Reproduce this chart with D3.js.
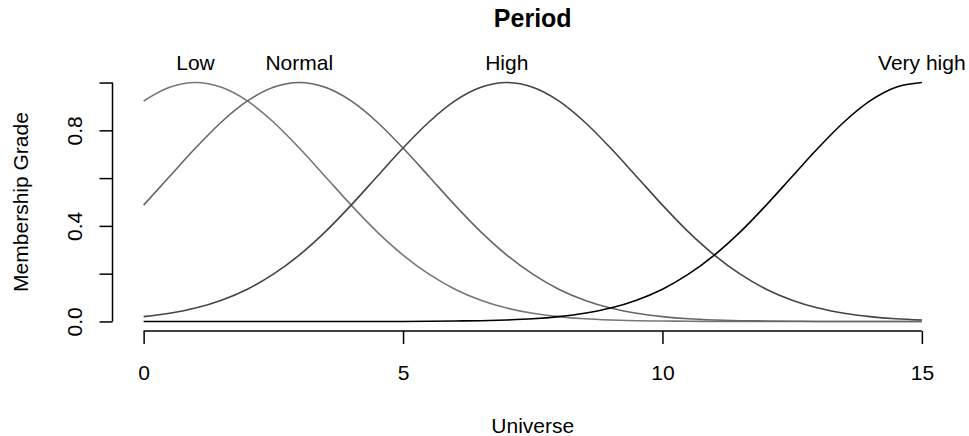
<!DOCTYPE html>
<html lang="en">
<head>
    <meta charset="UTF-8">
    <title>Period</title>
    <script src="https://cdnjs.cloudflare.com/ajax/libs/d3/7.8.5/d3.min.js"></script>
    <style>
        body { margin: 0; background: #fff; }
        svg { display: block; font-family: "Liberation Sans", Arial, Helvetica, sans-serif; }
    </style>
</head>
<body>
    <div id="chart"></div>
    <script>
        // universe sampled every 0.5
        const universe = [0, 0.5, 1, 1.5, 2, 2.5, 3, 3.5, 4, 4.5, 5, 5.5, 6, 6.5, 7, 7.5,
                          8, 8.5, 9, 9.5, 10, 10.5, 11, 11.5, 12, 12.5, 13, 13.5, 14, 14.5, 15];

        const low = [0.923, 0.980, 1, 0.980, 0.923, 0.835, 0.726, 0.607, 0.487, 0.375, 0.278,
                     0.198, 0.135, 0.089, 0.056, 0.034, 0.020, 0.011, 0.006, 0.003, 0.002,
                     0.001, 0, 0, 0, 0, 0, 0, 0, 0, 0];
        const normal = [0.487, 0.607, 0.726, 0.835, 0.923, 0.980, 1, 0.980, 0.923, 0.835, 0.726,
                        0.607, 0.487, 0.375, 0.278, 0.198, 0.135, 0.089, 0.056, 0.034, 0.020,
                        0.011, 0.006, 0.003, 0.002, 0.001, 0, 0, 0, 0, 0];
        const high = [0.020, 0.034, 0.056, 0.089, 0.135, 0.198, 0.278, 0.375, 0.487, 0.607, 0.726,
                      0.835, 0.923, 0.980, 1, 0.980, 0.923, 0.835, 0.726, 0.607, 0.487,
                      0.375, 0.278, 0.198, 0.135, 0.089, 0.056, 0.034, 0.020, 0.011, 0.006];
        const veryHigh = [0, 0, 0, 0, 0, 0, 0, 0, 0, 0, 0,
                          0.001, 0.002, 0.003, 0.006, 0.011, 0.020, 0.034, 0.056, 0.089, 0.135,
                          0.198, 0.278, 0.375, 0.487, 0.607, 0.726, 0.835, 0.923, 0.980, 1];

        const setNames = ["Low", "Normal", "High", "Very high"];
        const setPeaks = [1, 3, 7, 15];
        const setColors = ["#777777", "#666666", "#444444", "#000000"];
        const xTicks = [0, 5, 10, 15];
        const yTicks = [0, 0.2, 0.4, 0.6, 0.8, 1.0];
        const yTickLabels = ["0.0", "", "0.4", "", "0.8", ""];

        const width = 969, height = 436;
        // plot region (R style, 4% padding)
        const plotLeft = 112.5, plotRight = 953, plotTop = 73, plotBottom = 331;

        const x = d3.scaleLinear().domain([-0.6, 15.6]).range([plotLeft, plotRight]);
        const y = d3.scaleLinear().domain([-0.04, 1.04]).range([plotBottom, plotTop]);

        const svg = d3.select("#chart").append("svg")
            .attr("width", width)
            .attr("height", height);

        const series = [low, normal, high, veryHigh];
        const line = d3.line()
            .x((d, i) => x(universe[i]))
            .y(d => y(d))
            .curve(d3.curveMonotoneX);

        svg.append("g")
            .selectAll("path")
            .data(series)
            .enter().append("path")
            .attr("d", line)
            .attr("fill", "none")
            .attr("stroke", (d, i) => setColors[i])
            .attr("stroke-width", 1.6);

        // set labels above the peaks
        svg.append("g")
            .selectAll("text")
            .data(setNames)
            .enter().append("text")
            .attr("x", (d, i) => x(setPeaks[i]))
            .attr("y", 70)
            .attr("text-anchor", "middle")
            .attr("font-size", 21)
            .text(d => d);

        // x axis
        const xAxis = d3.axisBottom(x)
            .tickValues(xTicks)
            .tickSize(13)
            .tickFormat(d3.format("d"));
        const gx = svg.append("g")
            .attr("transform", `translate(0,${plotBottom})`)
            .call(xAxis);
        gx.select(".domain")
            .attr("d", `M${x(0)},0H${x(15)}`)
            .attr("stroke-width", 1.5);
        gx.selectAll(".tick line").attr("stroke-width", 1.5);
        gx.selectAll(".tick text")
            .attr("font-size", 21)
            .attr("dy", null)
            .attr("y", 49);

        // y axis
        const yAxis = d3.axisLeft(y)
            .tickValues(yTicks)
            .tickSize(13)
            .tickFormat((d, i) => yTickLabels[i]);
        const gy = svg.append("g")
            .attr("transform", `translate(${plotLeft},0)`)
            .call(yAxis);
        gy.select(".domain")
            .attr("d", `M0,${y(1)}V${y(0)}`)
            .attr("stroke-width", 1.5);
        gy.selectAll(".tick line").attr("stroke-width", 1.5);
        gy.selectAll(".tick text")
            .attr("font-size", 21)
            .attr("x", null)
            .attr("dy", null)
            .attr("text-anchor", "middle")
            .attr("transform", "translate(-30.5,0) rotate(-90)");

        svg.selectAll(".tick text").attr("fill", "#000");
        svg.selectAll("g").attr("font-family", null);
        svg.selectAll(".domain, .tick line").attr("stroke", "#000");

        // titles
        svg.append("text")
            .attr("x", (plotLeft + plotRight) / 2)
            .attr("y", 27)
            .attr("text-anchor", "middle")
            .attr("font-size", 25)
            .attr("font-weight", "bold")
            .text("Period");

        svg.append("text")
            .attr("x", (plotLeft + plotRight) / 2)
            .attr("y", 433)
            .attr("text-anchor", "middle")
            .attr("font-size", 21)
            .text("Universe");

        svg.append("text")
            .attr("transform", `translate(27.5,${(plotTop + plotBottom) / 2}) rotate(-90)`)
            .attr("text-anchor", "middle")
            .attr("font-size", 21)
            .text("Membership Grade");
    </script>
</body>
</html>
